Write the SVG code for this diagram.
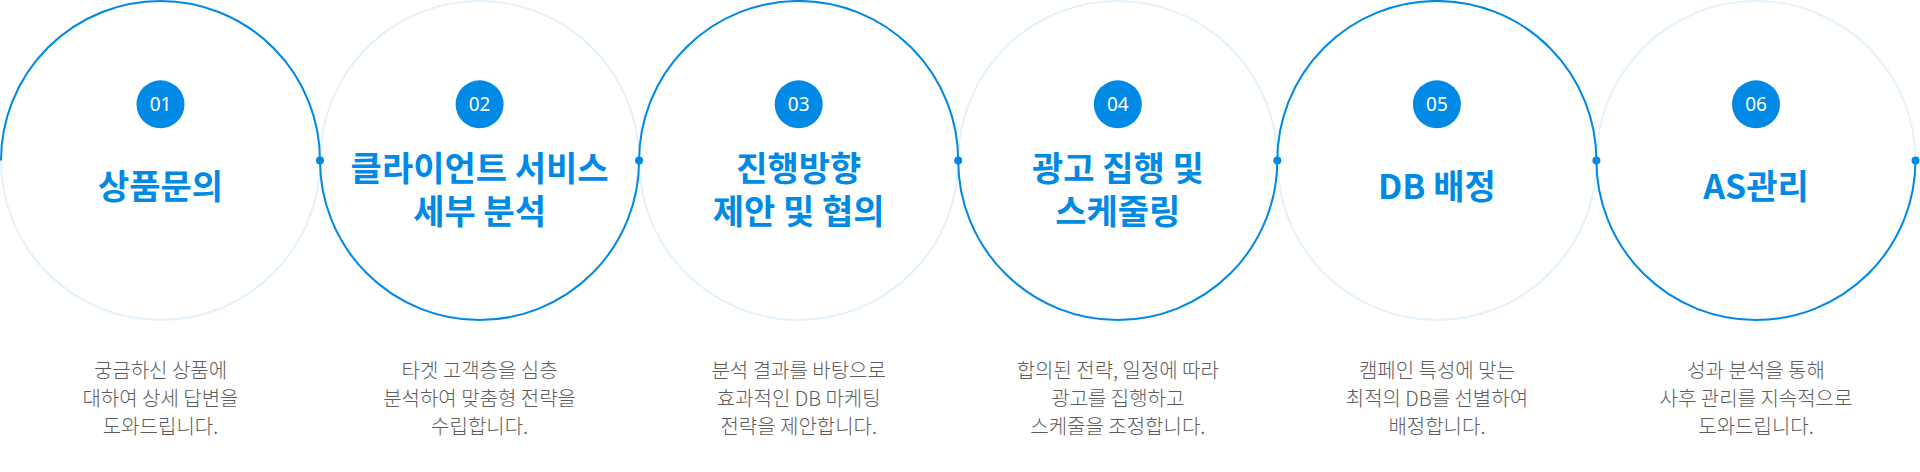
<svg xmlns="http://www.w3.org/2000/svg" width="1920" height="472" viewBox="0 0 1920 472">
<style>
.ring{fill:none;stroke:#E4F2FD;stroke-width:2}
.wave{fill:none;stroke:#0089E5;stroke-width:2}
.dot{fill:#0089E5}
.badge{fill:#0089E5}
.num{font-family:"Noto Sans","Liberation Sans",sans-serif;font-size:19px;fill:#ffffff;text-anchor:middle}
.title{font-family:"Noto Sans CJK KR","Noto Sans",sans-serif;font-size:34px;font-weight:700;fill:#0089E5;text-anchor:middle}
.desc{font-family:"Noto Sans CJK KR","Noto Sans",sans-serif;font-size:20px;font-weight:300;fill:#5c5c5c;text-anchor:middle}
</style>
<rect width="1920" height="472" fill="#ffffff"/>
<g id="rings">
<circle class="ring" cx="160.5" cy="160.5" r="159.5"/>
<circle class="ring" cx="479.6" cy="160.5" r="159.5"/>
<circle class="ring" cx="798.7" cy="160.5" r="159.5"/>
<circle class="ring" cx="1117.8" cy="160.5" r="159.5"/>
<circle class="ring" cx="1436.9" cy="160.5" r="159.5"/>
<circle class="ring" cx="1756" cy="160.5" r="159.5"/>
</g>
<g id="connectors">
<path class="wave" d="M1,160.5 A159.5,159.5 0 0 1 320,160.5 A159.5,159.5 0 0 0 639.1,160.5 A159.5,159.5 0 0 1 958.2,160.5 A159.5,159.5 0 0 0 1277.3,160.5 A159.5,159.5 0 0 1 1596.4,160.5 A159.5,159.5 0 0 0 1915.5,160.5"/>
<circle class="dot" cx="320" cy="160.5" r="4"/>
<circle class="dot" cx="639.1" cy="160.5" r="4"/>
<circle class="dot" cx="958.2" cy="160.5" r="4"/>
<circle class="dot" cx="1277.3" cy="160.5" r="4"/>
<circle class="dot" cx="1596.4" cy="160.5" r="4"/>
<circle class="dot" cx="1915.5" cy="160.5" r="4"/>
</g>
<g id="step01">
<circle class="badge" cx="160.5" cy="104.3" r="24"/>
<text class="num" x="160.5" y="111">01</text>
<text class="title" x="160.5" y="199">상품문의</text>
<text class="desc" x="160.5" y="378">궁금하신 상품에</text>
<text class="desc" x="160.5" y="405.8">대하여 상세 답변을</text>
<text class="desc" x="160.5" y="433.5">도와드립니다.</text>
</g>
<g id="step02">
<circle class="badge" cx="479.6" cy="104.3" r="24"/>
<text class="num" x="479.6" y="111">02</text>
<text class="title" x="479.6" y="181">클라이언트 서비스</text>
<text class="title" x="479.6" y="224">세부 분석</text>
<text class="desc" x="479.6" y="378">타겟 고객층을 심층</text>
<text class="desc" x="479.6" y="405.8">분석하여 맞춤형 전략을</text>
<text class="desc" x="479.6" y="433.5">수립합니다.</text>
</g>
<g id="step03">
<circle class="badge" cx="798.7" cy="104.3" r="24"/>
<text class="num" x="798.7" y="111">03</text>
<text class="title" x="798.7" y="181">진행방향</text>
<text class="title" x="798.7" y="224">제안 및 협의</text>
<text class="desc" x="798.7" y="378">분석 결과를 바탕으로</text>
<text class="desc" x="798.7" y="405.8">효과적인 DB 마케팅</text>
<text class="desc" x="798.7" y="433.5">전략을 제안합니다.</text>
</g>
<g id="step04">
<circle class="badge" cx="1117.8" cy="104.3" r="24"/>
<text class="num" x="1117.8" y="111">04</text>
<text class="title" x="1117.8" y="181">광고 집행 및</text>
<text class="title" x="1117.8" y="224">스케줄링</text>
<text class="desc" x="1117.8" y="378">합의된 전략, 일정에 따라</text>
<text class="desc" x="1117.8" y="405.8">광고를 집행하고</text>
<text class="desc" x="1117.8" y="433.5">스케줄을 조정합니다.</text>
</g>
<g id="step05">
<circle class="badge" cx="1436.9" cy="104.3" r="24"/>
<text class="num" x="1436.9" y="111">05</text>
<text class="title" x="1436.9" y="199">DB 배정</text>
<text class="desc" x="1436.9" y="378">캠페인 특성에 맞는</text>
<text class="desc" x="1436.9" y="405.8">최적의 DB를 선별하여</text>
<text class="desc" x="1436.9" y="433.5">배정합니다.</text>
</g>
<g id="step06">
<circle class="badge" cx="1756" cy="104.3" r="24"/>
<text class="num" x="1756" y="111">06</text>
<text class="title" x="1756" y="199">AS관리</text>
<text class="desc" x="1756" y="378">성과 분석을 통해</text>
<text class="desc" x="1756" y="405.8">사후 관리를 지속적으로</text>
<text class="desc" x="1756" y="433.5">도와드립니다.</text>
</g>
</svg>
